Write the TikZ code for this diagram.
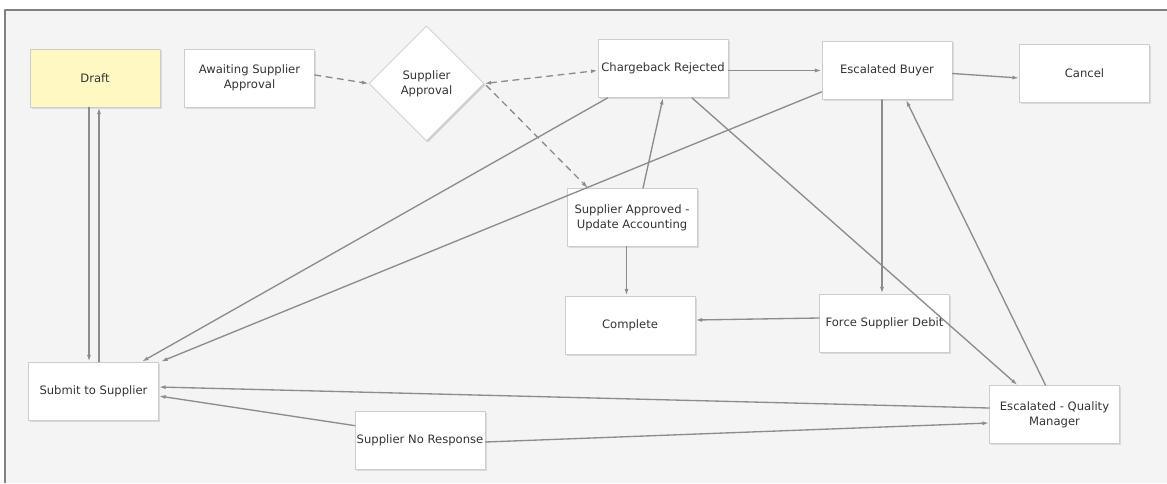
\documentclass[tikz,border=0pt]{standalone}
\usepackage{fontspec}
\setmainfont{DejaVu Sans}
\usetikzlibrary{arrows.meta,shapes.geometric,shadows}
\definecolor{wfBg}{HTML}{F4F4F4}
\definecolor{wfFrame}{HTML}{808080}
\definecolor{wfLine}{HTML}{8C8C8C}
\definecolor{wfBorder}{HTML}{CDCDCD}
\definecolor{wfShadow}{HTML}{B8BCCB}
\definecolor{wfDraft}{HTML}{FFF8C2}
\definecolor{wfText}{HTML}{333333}
\begin{document}
\begin{tikzpicture}
% Workflow states exported from canvas (1 unit = 1 px)
\def\px{0.75pt}
\providecommand{\wfLineWidth}{1pt}
\providecommand{\wfFrameWidth}{1.5pt}
\begin{scope}[x=\px, y=-\px, line cap=round, line join=round,
  state/.style={rectangle, draw=wfBorder, fill=white, line width=0.6pt,
    minimum width=130*\px, minimum height=58*\px, inner sep=1pt, align=center,
    text=wfText, font=\fontsize{8.7}{11}\selectfont,
    drop shadow={shadow xshift=1.2pt, shadow yshift=-1.2pt, fill=wfShadow, opacity=0.45}},
  choice/.style={state, diamond, aspect=1, inner sep=0pt,
    minimum width=115*\px, minimum height=115*\px,
    drop shadow={shadow xshift=0.8pt, shadow yshift=-1pt, fill=wfShadow, opacity=0.35}},
  link/.style={draw=wfLine, line width=\wfLineWidth, -{Latex[length=5pt,width=3pt]}},
  maybe/.style={link, dash pattern=on 4.5pt off 4pt}]
  % Canvas background with frame on the top and left
  \useasboundingbox (0,0) rectangle (1167,483);
  \fill[wfBg] (5,10) rectangle (1167,483);
  \draw[wfFrame, line width=\wfFrameWidth, line cap=butt] (5,483) -- (5,10) -- (1167,10);
  % States
  \node[state, fill=wfDraft] (draft) at (95,78) {Draft};
  \node[state] (awaiting) at (249.5,78) {Awaiting Supplier\\Approval};
  \node[choice] (supappr) at (426.5,83.5) {Supplier\\Approval};
  \node[state] (rejected) at (663,68.5) {Chargeback Rejected};
  \node[state] (buyer) at (887,70.5) {Escalated Buyer};
  \node[state] (cancel) at (1084.5,73) {Cancel};
  \node[state] (approved) at (632,217.5) {Supplier Approved -\\Update Accounting};
  \node[state] (complete) at (630,325) {Complete};
  \node[state] (debit) at (884.5,323) {Force Supplier Debit};
  \node[state] (qm) at (1054.5,414.5) {Escalated - Quality\\Manager};
  \node[state] (submit) at (93.5,391) {Submit to Supplier};
  \node[state] (noresp) at (420,440) {Supplier No Response};
  % Transitions
  \draw[link] ([xshift=-6*\px]draft.south) -- ([xshift=-6*\px]draft.south |- submit.north);
  \draw[link] ([xshift=4*\px]draft.south |- submit.north) -- ([xshift=4*\px]draft.south);
  \draw[maybe] ([yshift=3*\px]awaiting.east) -- (supappr.west);
  \draw[maybe, {Latex[length=5pt,width=3pt]}-{Latex[length=5pt,width=3pt]}] (supappr.east) -- ([yshift=-2*\px]rejected.west);
  \draw[maybe] ([xshift=2*\px, yshift=-2*\px]supappr.east) -- ([xshift=-44*\px]approved.north);
  \draw[link] ([yshift=-2*\px]rejected.east) -- (buyer.west);
  \draw[link] ([yshift=-3*\px]buyer.east) -- ([yshift=-5*\px]cancel.west);
  \draw[link] ([xshift=10*\px]rejected.south west) -- ([xshift=-17*\px]submit.north east);
  \draw[link] ([yshift=8*\px]buyer.south west) -- ([xshift=2*\px]submit.north east);
  \draw[link] ([xshift=11*\px]approved.north) -- (rejected.south);
  \draw[link] ([xshift=29*\px]rejected.south) -- ([xshift=-37*\px]qm.north);
  \draw[link] ([xshift=-5*\px]buyer.south) -- ([xshift=-5*\px]buyer.south |- debit.north);
  \draw[link] ([xshift=-9*\px]qm.north) -- ([xshift=19*\px]buyer.south);
  \draw[link] ([xshift=-5.5*\px]approved.south) -- ([xshift=-5.5*\px]approved.south |- complete.north);
  \draw[link] ([yshift=5*\px]debit.west) -- ([yshift=5*\px]complete.east);
  \draw[link] ([yshift=6.5*\px]qm.west) -- ([yshift=4*\px]submit.east);
  \draw[link] ([yshift=-15*\px]noresp.north west) -- ([yshift=-5*\px]submit.east);
  \draw[link] ([yshift=-2*\px]noresp.east) -- ([yshift=-8.5*\px]qm.west);
\end{scope}
\end{tikzpicture}
\end{document}
